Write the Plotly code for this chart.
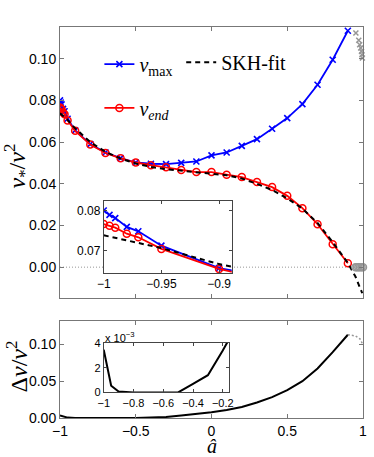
import plotly.graph_objects as go

# spin values and velocities
a_vals = [-1, -0.995, -0.99, -0.98, -0.97, -0.95, -0.9, -0.8, -0.7, -0.6, -0.5, -0.4, -0.3,
          -0.2, -0.1, 0, 0.1, 0.2, 0.3, 0.4, 0.5, 0.6, 0.7, 0.8, 0.9]
v_max = [0.0800, 0.0789, 0.0781, 0.0759, 0.0748, 0.0712, 0.0656, 0.0590, 0.0550, 0.0523, 0.0502,
         0.0496, 0.0494, 0.0500, 0.0507, 0.0536, 0.0550, 0.0582, 0.0614, 0.0664, 0.0715, 0.0782,
         0.0875, 0.0995, 0.1134]
v_end = [0.0766, 0.0762, 0.0757, 0.0742, 0.0733, 0.0704, 0.0654, 0.0588, 0.0548, 0.0522, 0.0502,
         0.0489, 0.0479, 0.0466, 0.0456, 0.0456, 0.0443, 0.0432, 0.0408, 0.0384, 0.0342, 0.0283,
         0.0206, 0.0110, 0.0019]

a_skh = [-1, -0.95, -0.9, -0.8, -0.7, -0.6, -0.5, -0.4, -0.3, -0.2, -0.1, 0, 0.1, 0.2, 0.3,
         0.4, 0.5, 0.6, 0.7, 0.8, 0.9, 0.95, 0.995]
v_skh = [0.0738, 0.0706, 0.0666, 0.0600, 0.0553, 0.0521, 0.0497, 0.0481, 0.0470, 0.0463, 0.0457,
         0.0451, 0.0441, 0.0425, 0.0400, 0.0370, 0.0330, 0.0281, 0.0212, 0.0120, 0.0020, -0.0045,
         -0.0125]

# grey points beyond a = 0.9
a_grey_max = [0.953, 0.972, 0.978, 0.985, 0.99, 0.993, 0.996]
v_grey_max = [0.1123, 0.1088, 0.1067, 0.1051, 0.1035, 0.1019, 0.1003]
a_grey_end = [0.95, 0.96, 0.97, 0.98, 0.99, 1.0]
v_grey_end = [0, 0, 0, 0, 0, 0]

# difference v_max - v_end
a_dv = [-1, -0.95, -0.9, -0.8, -0.7, -0.6, -0.5, -0.4, -0.3, -0.2, -0.1, 0, 0.1, 0.2, 0.3,
        0.4, 0.5, 0.6, 0.7, 0.8, 0.9]
dv = [0.00346, 0.00054, 0.00008, 0, 0, 0, 0, 0.0007, 0.0014, 0.0034, 0.0052, 0.0077, 0.0108,
      0.0150, 0.0210, 0.0282, 0.0378, 0.0498, 0.0670, 0.0890, 0.1126]
a_dv_grey = [0.9, 0.95, 0.98, 0.995]
dv_grey = [0.1126, 0.111, 0.107, 0.101]

BLUE = "rgb(0,0,255)"
RED = "rgb(255,0,0)"
GREY = "rgb(150,150,150)"
SANS = "Liberation Sans"
SERIF = "Liberation Serif"

fig = go.Figure()


def curves(xa, ya, legend=False):
    # v_max, v_end and SKH-fit on one pair of axes
    fig.add_trace(go.Scatter(x=a_vals, y=v_max, xaxis=xa, yaxis=ya, mode="lines+markers",
                             name="<i>v</i><sub>max</sub>", legend="legend", showlegend=legend,
                             line=dict(color=BLUE, width=1.8),
                             marker=dict(symbol="x-thin-open", size=6, color=BLUE,
                                         line=dict(color=BLUE, width=1.6))))
    fig.add_trace(go.Scatter(x=a_vals, y=v_end, xaxis=xa, yaxis=ya, mode="lines+markers",
                             name="<i>v</i><sub><i>end</i></sub>", legend="legend3",
                             showlegend=legend, line=dict(color=RED, width=1.8),
                             marker=dict(symbol="circle-open", size=7, color=RED,
                                         line=dict(color=RED, width=1.5))))
    fig.add_trace(go.Scatter(x=a_skh, y=v_skh, xaxis=xa, yaxis=ya, mode="lines",
                             name="SKH-fit", legend="legend2", showlegend=legend,
                             line=dict(color="black", width=2, dash="5px,4px")))


# dotted zero line
fig.add_trace(go.Scatter(x=[-1, 1], y=[0, 0], mode="lines", showlegend=False,
                         line=dict(color=GREY, width=1, dash="1px,2px")))
curves("x", "y", legend=True)
fig.add_trace(go.Scatter(x=a_grey_max, y=v_grey_max, mode="markers", showlegend=False,
                         cliponaxis=False,
                         marker=dict(symbol="x-thin-open", size=5, color=GREY,
                                     line=dict(color=GREY, width=1.5))))
fig.add_trace(go.Scatter(x=a_grey_end, y=v_grey_end, mode="markers", showlegend=False,
                         cliponaxis=False,
                         marker=dict(symbol="circle-open", size=7, color=GREY,
                                     line=dict(color=GREY, width=1.5))))

# bottom panel
fig.add_trace(go.Scatter(x=a_dv, y=dv, xaxis="x2", yaxis="y2", mode="lines", showlegend=False,
                         line=dict(color="black", width=2)))
fig.add_trace(go.Scatter(x=a_dv_grey, y=dv_grey, xaxis="x2", yaxis="y2", mode="lines",
                         showlegend=False, cliponaxis=False,
                         line=dict(color=GREY, width=1.5, dash="2px,2px")))

# insets
curves("x3", "y3")
fig.add_trace(go.Scatter(x=a_dv, y=dv, xaxis="x4", yaxis="y4", mode="lines", showlegend=False,
                         line=dict(color="black", width=2)))

ax = dict(showline=True, linecolor="#777", linewidth=1, mirror="ticks", ticks="inside",
          ticklen=4, tickcolor="#777", showgrid=False, zeroline=False,
          tickfont=dict(family=SANS, size=14, color="black"))
inset = dict(ax, linecolor="#444", tickcolor="#444", ticklen=3,
             tickfont=dict(family=SANS, size=12, color="black"))

pad_b = 0.3074
fig.update_layout(
    width=374, height=457,
    margin=dict(l=60, r=7, t=27, b=39),
    paper_bgcolor="white", plot_bgcolor="white",
    xaxis=dict(ax, domain=[0, 1], range=[-1, 1], anchor="y",
               tickvals=[-1, -0.5, 0, 0.5, 1], showticklabels=False),
    yaxis=dict(ax, domain=[pad_b, 1], range=[-0.0147, 0.1152], anchor="x",
               tickvals=[0, 0.02, 0.04, 0.06, 0.08, 0.10], tickformat=".2f"),
    xaxis2=dict(ax, domain=[0, 1], range=[-1, 1], anchor="y2",
                tickvals=[-1, -0.5, 0, 0.5, 1], ticktext=["−1", "−0.5", "0", "0.5", "1"]),
    yaxis2=dict(ax, domain=[0, 0.2487], range=[0, 0.1315], anchor="x2",
                tickvals=[0, 0.05, 0.10], tickformat=".2f"),
    xaxis3=dict(inset, domain=[0.1443, 0.5668], range=[-1, -0.889], anchor="y3",
                tickvals=[-1, -0.95, -0.9], ticktext=["−1", "−0.95", "−0.9"]),
    yaxis3=dict(inset, domain=[0.3706, 0.5553], range=[0.06435, 0.0824], anchor="x3",
                tickvals=[0.07, 0.08], tickformat=".2f"),
    xaxis4=dict(inset, domain=[0.1443, 0.5593], range=[-1, -0.155], anchor="y4",
                tickvals=[-1, -0.8, -0.6, -0.4, -0.2],
                ticktext=["−1", "−0.8", "−0.6", "−0.4", "−0.2"],
                tickfont=dict(family=SANS, size=11, color="black")),
    yaxis4=dict(inset, domain=[0.0654, 0.1917], range=[0, 0.004], anchor="x4",
                tickvals=[0, 0.002, 0.004], ticktext=["0", "2", "4"],
                tickfont=dict(family=SANS, size=11, color="black")),
    legend=dict(x=0.13, y=0.905, xanchor="left", yanchor="middle", bgcolor="rgba(0,0,0,0)",
                itemwidth=30, font=dict(family=SERIF, size=20, color="black")),
    legend2=dict(x=0.40, y=0.91, xanchor="left", yanchor="middle", bgcolor="rgba(0,0,0,0)",
                 itemwidth=30, font=dict(family=SERIF, size=20, color="black")),
    legend3=dict(x=0.13, y=0.793, xanchor="left", yanchor="middle", bgcolor="rgba(0,0,0,0)",
                 itemwidth=30, font=dict(family=SERIF, size=20, color="black")),
    annotations=[
        dict(text="<i>v</i><sub>*</sub>/<i>ν</i><sup>2</sup>", xref="paper", yref="paper",
             x=-0.143, y=0.645, xanchor="center", yanchor="middle", textangle=-90,
             showarrow=False, font=dict(family=SERIF, size=24, color="black")),
        dict(text="Δ<i>v</i>/<i>ν</i><sup>2</sup>", xref="paper", yref="paper",
             x=-0.143, y=0.131, xanchor="center", yanchor="middle", textangle=-90,
             showarrow=False, font=dict(family=SERIF, size=24, color="black")),
        dict(text="<i>â</i>", xref="paper", yref="paper", x=0.5, y=-0.071,
             xanchor="center", yanchor="middle",
             showarrow=False, font=dict(family=SERIF, size=20, color="black")),
        dict(text="x 10<sup>−3</sup>", xref="paper", yref="paper", x=0.143, y=0.208,
             xanchor="left", yanchor="middle", showarrow=False,
             font=dict(family=SANS, size=11, color="black")),
    ],
)

fig.write_html("out.html", config={"displayModeBar": False},
               post_script="document.body.style.margin='0';")
